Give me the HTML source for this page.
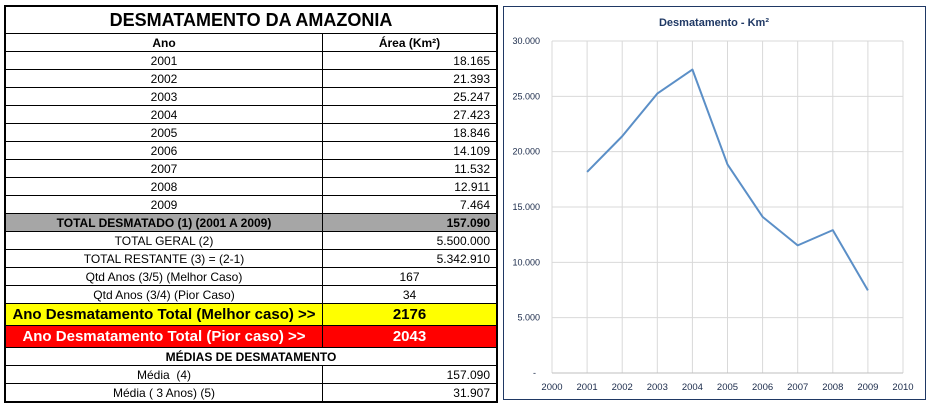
<!DOCTYPE html>
<html><head><meta charset="utf-8"><style>
body{margin:0;width:928px;height:406px;background:#fff;position:relative;overflow:hidden;font-family:"Liberation Sans",sans-serif;}
table{position:absolute;left:4px;top:5px;width:494px;border-collapse:collapse;border:2px solid #000;font-size:12px;}
td{border:1px solid #000;padding:0 6px;height:17px;text-align:center;white-space:nowrap;}
td.r{text-align:right;}
.t{font-size:18px;font-weight:bold;height:26px;}
.b{font-weight:bold;}
.gray{background:#a6a6a6;font-weight:bold;}
.y{background:#ffff00;font-weight:bold;font-size:15px;height:21px;}
.red{background:#ff0000;color:#fff;font-weight:bold;font-size:15px;height:21px;}
#chart{position:absolute;left:503px;top:6px;width:421px;height:392px;border:1px solid #1f3864;}
</style></head><body>
<table>
<tr><td colspan="2" class="t">DESMATAMENTO DA AMAZONIA</td></tr>
<tr><td class="b" style="width:304px">Ano</td><td class="b">Área (Km²)</td></tr>
<tr><td>2001</td><td class="r">18.165</td></tr>
<tr><td>2002</td><td class="r">21.393</td></tr>
<tr><td>2003</td><td class="r">25.247</td></tr>
<tr><td>2004</td><td class="r">27.423</td></tr>
<tr><td>2005</td><td class="r">18.846</td></tr>
<tr><td>2006</td><td class="r">14.109</td></tr>
<tr><td>2007</td><td class="r">11.532</td></tr>
<tr><td>2008</td><td class="r">12.911</td></tr>
<tr><td>2009</td><td class="r">7.464</td></tr>
<tr class="gray"><td>TOTAL DESMATADO (1) (2001 A 2009)</td><td class="r">157.090</td></tr>
<tr><td>TOTAL GERAL (2)</td><td class="r">5.500.000</td></tr>
<tr><td>TOTAL RESTANTE (3) = (2-1)</td><td class="r">5.342.910</td></tr>
<tr><td>Qtd Anos (3/5) (Melhor Caso)</td><td>167</td></tr>
<tr><td>Qtd Anos (3/4) (Pior Caso)</td><td>34</td></tr>
<tr><td class="y">Ano Desmatamento Total (Melhor caso) &gt;&gt;</td><td class="y">2176</td></tr>
<tr><td class="red">Ano Desmatamento Total (Pior caso) &gt;&gt;</td><td class="red">2043</td></tr>
<tr><td colspan="2" class="b">MÉDIAS DE DESMATAMENTO</td></tr>
<tr><td>Média&nbsp; (4)</td><td class="r">157.090</td></tr>
<tr><td>Média ( 3 Anos) (5)</td><td class="r">31.907</td></tr>
</table>
<div id="chart">
<svg id="svg" width="421" height="392" style="position:absolute;left:0;top:0"></svg>
</div>
<script>
const years=[2001,2002,2003,2004,2005,2006,2007,2008,2009];
const areas=[18165,21393,25247,27423,18846,14109,11532,12911,7464];
const yTicks=[0,5000,10000,15000,20000,25000,30000];
const yTickLabels=["-","5.000","10.000","15.000","20.000","25.000","30.000"];
const xTicks=[2000,2001,2002,2003,2004,2005,2006,2007,2008,2009,2010];
const ns="http://www.w3.org/2000/svg";
const svg=document.getElementById('svg');
const ox=503,oy=6;
const L=551-ox,R=902-ox,T=40-oy,B=372-oy;
const xs=v=>L+(v-2000)/10*(R-L);
const ys=v=>B-v/30000*(B-T);
function mk(tag,attrs){const e=document.createElementNS(ns,tag);for(const k in attrs)e.setAttribute(k,attrs[k]);svg.appendChild(e);return e;}
const title=mk('text',{x:210,y:19,'text-anchor':'middle','font-size':'11','font-weight':'bold',fill:'#1f3864','font-family':'Liberation Sans, sans-serif'});
title.textContent='Desmatamento - Km²';


yTicks.forEach((v,i)=>{
 const g=mk('line',{x1:L,x2:R,y1:ys(v),y2:ys(v),stroke:'#d9d9d9'});
 
 
 const t=mk('text',{x:i==0?L-16:L-12,y:ys(v)+3,'text-anchor':'end','font-size':'9',fill:'#1a2a4a','font-family':'Liberation Sans, sans-serif'});
 t.textContent=yTickLabels[i];
 
 
});
xTicks.forEach(v=>{
 const g=mk('line',{x1:xs(v),x2:xs(v),y1:T,y2:B,stroke:'#d9d9d9'});
 
 
 const t=mk('text',{x:xs(v),y:B+17,'text-anchor':'middle','font-size':'9.5',fill:'#1a2a4a','font-family':'Liberation Sans, sans-serif'});
 t.textContent=v;
 
 
});
const ax=mk('line',{x1:L,x2:R,y1:B,y2:B,stroke:'#bfbfbf'});


const pts=years.map((y,i)=>xs(y)+','+ys(areas[i])).join(' ');
const line=mk('polyline',{points:pts,fill:'none',stroke:'#5b8fc7','stroke-width':'2','stroke-linejoin':'round'});


</script>
</body></html>
